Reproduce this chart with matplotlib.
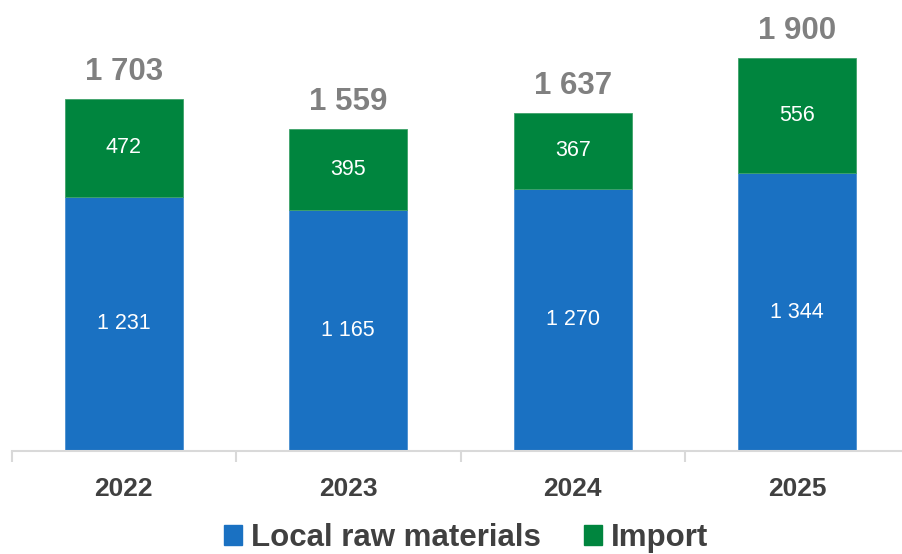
import matplotlib
matplotlib.use("Agg")
import matplotlib.pyplot as plt
import matplotlib.patches as mpatches
import numpy as np

plt.rcParams["font.family"] = ["Liberation Sans", "DejaVu Sans"]

years = ["2022", "2023", "2024", "2025"]
local = [1231, 1165, 1270, 1344]
imports = [472, 395, 367, 556]
totals = [1703, 1559, 1637, 1900]

BLUE = "#1A71C2"
GREEN = "#00853E"
TEXT_DARK = "#404040"
TEXT_GRAY = "#808080"


def fmt(v):
    # thousands separated by a space
    return f"{v:,}".replace(",", " ")


fig = plt.figure(figsize=(9.03, 5.54), dpi=100)
ax = fig.add_axes([11.5 / 903, 103 / 554, 898 / 903, 434 / 554])

x = np.arange(len(years))
w = 0.526
ax.bar(x, local, w, color=BLUE, edgecolor="#4A8FD0", linewidth=0.6)
ax.bar(x, imports, w, bottom=local, color=GREEN, edgecolor="#3FA36A", linewidth=0.6)

for i in range(len(years)):
    ax.text(x[i], local[i] / 2, fmt(local[i]), ha="center", va="center",
            color="white", fontsize=15.5)
    ax.text(x[i], local[i] + imports[i] / 2, fmt(imports[i]), ha="center",
            va="center", color="white", fontsize=15.5)
    ax.text(x[i], totals[i] + 130, fmt(totals[i]), ha="center", va="center",
            color=TEXT_GRAY, fontsize=22.5, fontweight="bold")

ax.set_xlim(-0.5, 3.5)
ax.set_ylim(0, 2100)
ax.set_yticks([])
for s in ["left", "right", "top"]:
    ax.spines[s].set_visible(False)
ax.spines["bottom"].set_color("#D9D9D9")
ax.spines["bottom"].set_linewidth(1.5)

# category labels centred, tick marks on boundaries
ax.set_xticks(x)
ax.set_xticklabels(years, fontsize=19, fontweight="bold", color=TEXT_DARK)
ax.tick_params(axis="x", which="major", length=0, pad=19)
ax.set_xticks(np.arange(-0.5, 4.0, 1.0), minor=True)
ax.tick_params(axis="x", which="minor", length=8, width=1.5, color="#D9D9D9")

handles = [mpatches.Patch(color=BLUE, label="Local raw materials"),
           mpatches.Patch(color=GREEN, label="Import")]
fig.legend(handles=handles, loc="center", bbox_to_anchor=(466 / 903, 1 - 538 / 554),
           ncol=2, frameon=False, handlelength=0.57, handleheight=0.57,
           handletextpad=0.27, columnspacing=1.4,
           prop={"size": 22.5, "weight": "bold"}, labelcolor=TEXT_DARK)

fig.savefig("out.png", dpi=100, facecolor="white")
